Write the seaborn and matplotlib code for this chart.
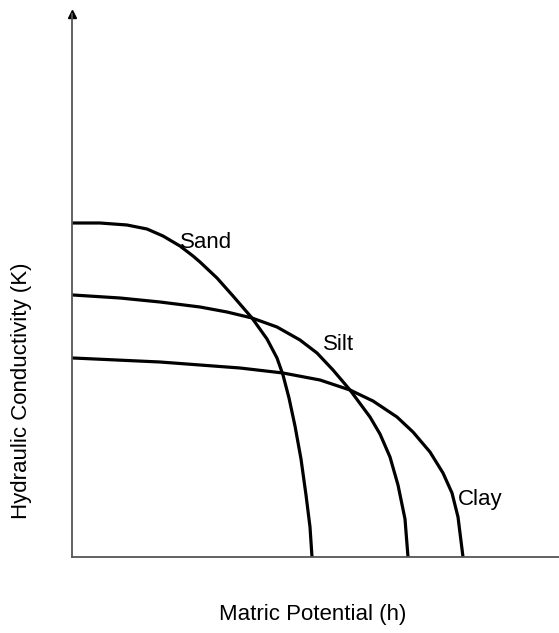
import numpy as np
import pandas as pd
import seaborn as sns
import matplotlib.pyplot as plt

# values (arbitrary units)
sand_h = [1, 28, 55, 75, 91, 108, 121, 128, 145, 161, 180, 195, 205, 211, 217, 223, 229, 234, 238, 240]
sand_k = [334, 334, 332, 328, 321, 311, 301, 295, 279, 261, 239, 218, 199, 182, 159, 131, 98, 62, 30, 0]

silt_h = [1, 48, 88, 128, 155, 180, 205, 228, 245, 261, 278, 298, 308, 318, 326, 333, 336]
silt_k = [262, 259, 255, 250, 245, 239, 230, 217, 204, 187, 167, 140, 123, 100, 72, 38, 0]

clay_h = [1, 88, 128, 168, 211, 248, 278, 301, 325, 341, 358, 371, 380, 386, 391]
clay_k = [199, 195, 192, 189, 184, 177, 167, 156, 140, 125, 105, 84, 64, 40, 0]

soils = ['Sand', 'Silt', 'Clay']
label_pos = [(108, 314), (251, 212), (386, 58)]

df = pd.concat([
    pd.DataFrame({'h': sand_h, 'K': sand_k, 'soil': 'Sand'}),
    pd.DataFrame({'h': silt_h, 'K': silt_k, 'soil': 'Silt'}),
    pd.DataFrame({'h': clay_h, 'K': clay_k, 'soil': 'Clay'}),
])

sns.set_style('white')
plt.rcParams['font.family'] = ['Liberation Sans', 'DejaVu Sans']
plt.rcParams['text.color'] = 'black'
plt.rcParams['axes.labelcolor'] = 'black'

fig = plt.figure(figsize=(5.59, 6.33), dpi=100)
ax = fig.add_axes([72 / 559, 76 / 633, 487 / 559, 543 / 633])

sns.lineplot(data=df, x='h', y='K', hue='soil', units='soil', estimator=None,
             sort=False, palette=['black'] * 3, linewidth=2.3, legend=False, ax=ax)
for line in ax.lines:
    line.set_solid_joinstyle('round')

for name, (x, y) in zip(soils, label_pos):
    ax.text(x, y, name, fontsize=16, ha='left', va='center', color='black')

ax.set_xlim(0, 487)
ax.set_ylim(0, 543)
ax.set_xticks([])
ax.set_yticks([])
sns.despine(ax=ax)
for s in ['left', 'bottom']:
    ax.spines[s].set_color('#555555')
    ax.spines[s].set_linewidth(1.3)

# arrow head on y axis
ax.plot([0], [1.0], marker='^', color='black', markersize=6, transform=ax.transAxes, clip_on=False)

ax.set_xlabel('Matric Potential (h)', fontsize=16)
ax.set_ylabel('Hydraulic Conductivity (K)', fontsize=16)
ax.xaxis.set_label_coords(0.495, -0.105)
ax.yaxis.set_label_coords(-0.104, 0.307)
ax.xaxis.label.set_va('center')
ax.yaxis.label.set_va('center')

fig.savefig('out.png', dpi=100)
